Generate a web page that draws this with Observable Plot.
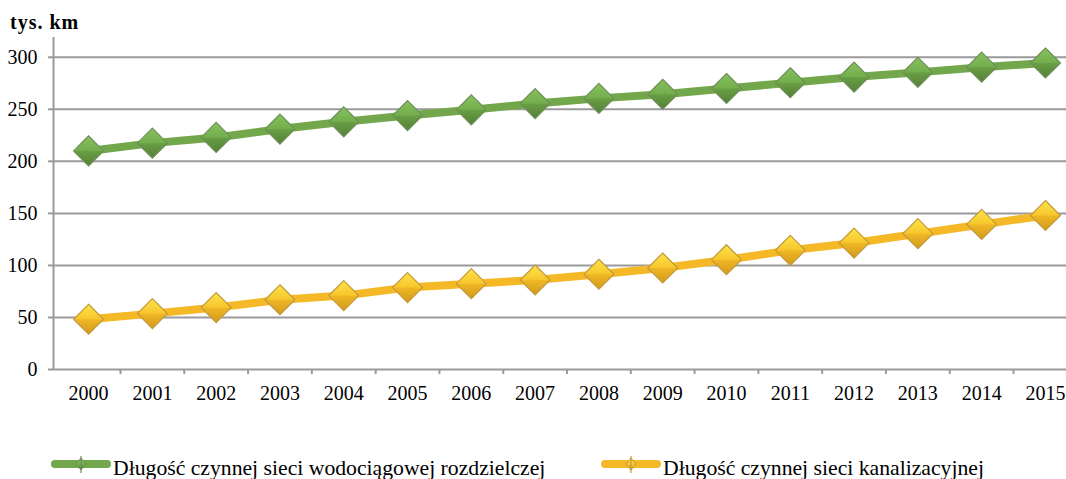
<!DOCTYPE html>
<html><head><meta charset="utf-8">
<script src="https://cdn.jsdelivr.net/npm/d3@7"></script>
<script src="https://cdn.jsdelivr.net/npm/@observablehq/plot@0.6"></script>
<style>
html,body{margin:0;padding:0;background:#fff;}
#wrap{position:relative;width:1066px;height:479px;overflow:hidden;font-family:"Liberation Serif","Times New Roman",serif;color:#000;}
#wrap svg, #wrap svg text{font-family:"Liberation Serif","Times New Roman",serif !important;}
#title{position:absolute;left:10px;top:12px;font-size:20px;line-height:20px;font-weight:bold;letter-spacing:1px;white-space:nowrap;}
#chart{position:absolute;left:0;top:36px;}
.leg{position:absolute;top:457px;font-size:21.7px;line-height:22px;white-space:nowrap;}
.sw{position:absolute;top:456px;}
</style></head><body>
<div id="wrap">
  <div id="title">tys. km</div>
  <div id="chart"></div>
  <div id="legend"></div>
</div>
<script>
const years = [2000, 2001, 2002, 2003, 2004, 2005, 2006, 2007, 2008, 2009, 2010, 2011, 2012, 2013, 2014, 2015];
const water = [210, 217.5, 223, 231, 238, 244, 249.5, 255.5, 260.5, 264.5, 270, 275.5, 281, 285.5, 290.5, 294.5];
const sewer = [48.3, 53.7, 59.5, 67, 71, 78.7, 82.5, 86, 91.5, 97.5, 105.5, 114.5, 121.5, 130.5, 139.4, 148];
const seriesNames = ["Długość czynnej sieci wodociągowej rozdzielczej", "Długość czynnej sieci kanalizacyjnej"];
const yTicks = [0, 50, 100, 150, 200, 250, 300];
const titleText = "tys. km";

const FONT = '"Liberation Serif","Times New Roman",serif';
const colors = {w: "#72a84b", k: "#f5b927"};
const gridColor = "#9a9a9a";
const xMin = 1999.45, xMax = 2015.33;
const bounds = years.slice(0, -1).map(y => y + 0.5);

const waterData = years.map((year, i) => ({year, value: water[i]}));
const sewerData = years.map((year, i) => ({year, value: sewer[i]}));

document.getElementById("title").textContent = titleText;

const plot = Plot.plot({
  width: 1066, height: 384,
  marginTop: 1, marginBottom: 51, marginLeft: 53, marginRight: 0,
  style: {fontFamily: FONT, fontSize: "20px", color: "#000", background: "transparent"},
  x: {type: "linear", domain: [xMin, xMax]},
  y: {domain: [0, 319]},
  marks: [
    Plot.gridY(yTicks.filter(d => d > 0), {stroke: gridColor, strokeOpacity: 1, strokeWidth: 2}),
    Plot.ruleY([0], {stroke: gridColor, strokeWidth: 2}),
    Plot.ruleX([xMin], {y1: 0, y2: 319, stroke: gridColor, strokeWidth: 2}),
    Plot.axisY({ticks: yTicks, tickSize: 5, tickPadding: 11, stroke: gridColor, strokeWidth: 2, label: null, fontSize: 20, fontFamily: FONT, fill: "#000"}),
    Plot.axisX({ticks: bounds, tickSize: 5, tickFormat: () => "", stroke: gridColor, strokeWidth: 2, label: null}),
    Plot.axisX({ticks: years, tickSize: 0, tickPadding: 16, tickFormat: d => String(d), label: null, fontSize: 20, fontFamily: FONT, fill: "#000"}),
    Plot.line(waterData, {x: "year", y: "value", stroke: colors.w, strokeWidth: 8}),
    Plot.line(sewerData, {x: "year", y: "value", stroke: colors.k, strokeWidth: 8}),
    Plot.dot(waterData, {x: "year", y: "value", symbol: "diamond2", r: 13.5, fill: "url(#gGreen)", stroke: "#6e8f58", strokeWidth: 1.2}),
    Plot.dot(sewerData, {x: "year", y: "value", symbol: "diamond2", r: 13.5, fill: "url(#gYellow)", stroke: "#c39a3a", strokeWidth: 1.2})
  ]
});

function addGrad(defs, id, stops) {
  const g = defs.append("linearGradient").attr("id", id).attr("x1", 0).attr("y1", 0).attr("x2", 0).attr("y2", 1);
  stops.forEach(([o, c]) => g.append("stop").attr("offset", o).attr("stop-color", c));
}
const defs = d3.select(plot).insert("defs", ":first-child");
addGrad(defs, "gGreen", [["0%", "#86c25e"], ["48%", "#74ae4d"], ["52%", "#689e44"], ["100%", "#557f37"]]);
addGrad(defs, "gYellow", [["0%", "#fde44c"], ["48%", "#f7c72d"], ["52%", "#efb626"], ["100%", "#d29a1e"]]);
document.getElementById("chart").appendChild(plot);

// legend
const legend = d3.select("#legend");
const legItems = [
  {name: seriesNames[0], color: colors.w, fill: "url(#lgGreen)", stroke: "#6e8f58", sx: 48, tx: 113},
  {name: seriesNames[1], color: colors.k, fill: "url(#lgYellow)", stroke: "#c39a3a", sx: 598, tx: 663}
];
legItems.forEach((it, i) => {
  const svg = legend.append("svg").attr("class", "sw").attr("width", 66).attr("height", 18)
    .style("left", it.sx + "px");
  const d = svg.append("defs");
  if (i === 0) addGrad(d, "lgGreen", [["0%", "#86c25e"], ["50%", "#74ae4d"], ["100%", "#557f37"]]);
  else addGrad(d, "lgYellow", [["0%", "#fde44c"], ["50%", "#f7c72d"], ["100%", "#d29a1e"]]);
  svg.append("line").attr("x1", 7).attr("x2", 59).attr("y1", 8).attr("y2", 8)
    .attr("stroke", it.color).attr("stroke-width", 8).attr("stroke-linecap", "round");
  svg.append("path").attr("d", "M33,2 L38,8 L33,14 L28,8 Z").attr("fill", it.fill).attr("stroke", it.stroke).attr("stroke-width", 1);
  svg.append("line").attr("x1", 33).attr("x2", 33).attr("y1", 0).attr("y2", 17).attr("stroke", it.stroke).attr("stroke-width", 1.2);
  legend.append("div").attr("class", "leg").style("left", it.tx + "px").text(it.name);
});
</script>
</body></html>
